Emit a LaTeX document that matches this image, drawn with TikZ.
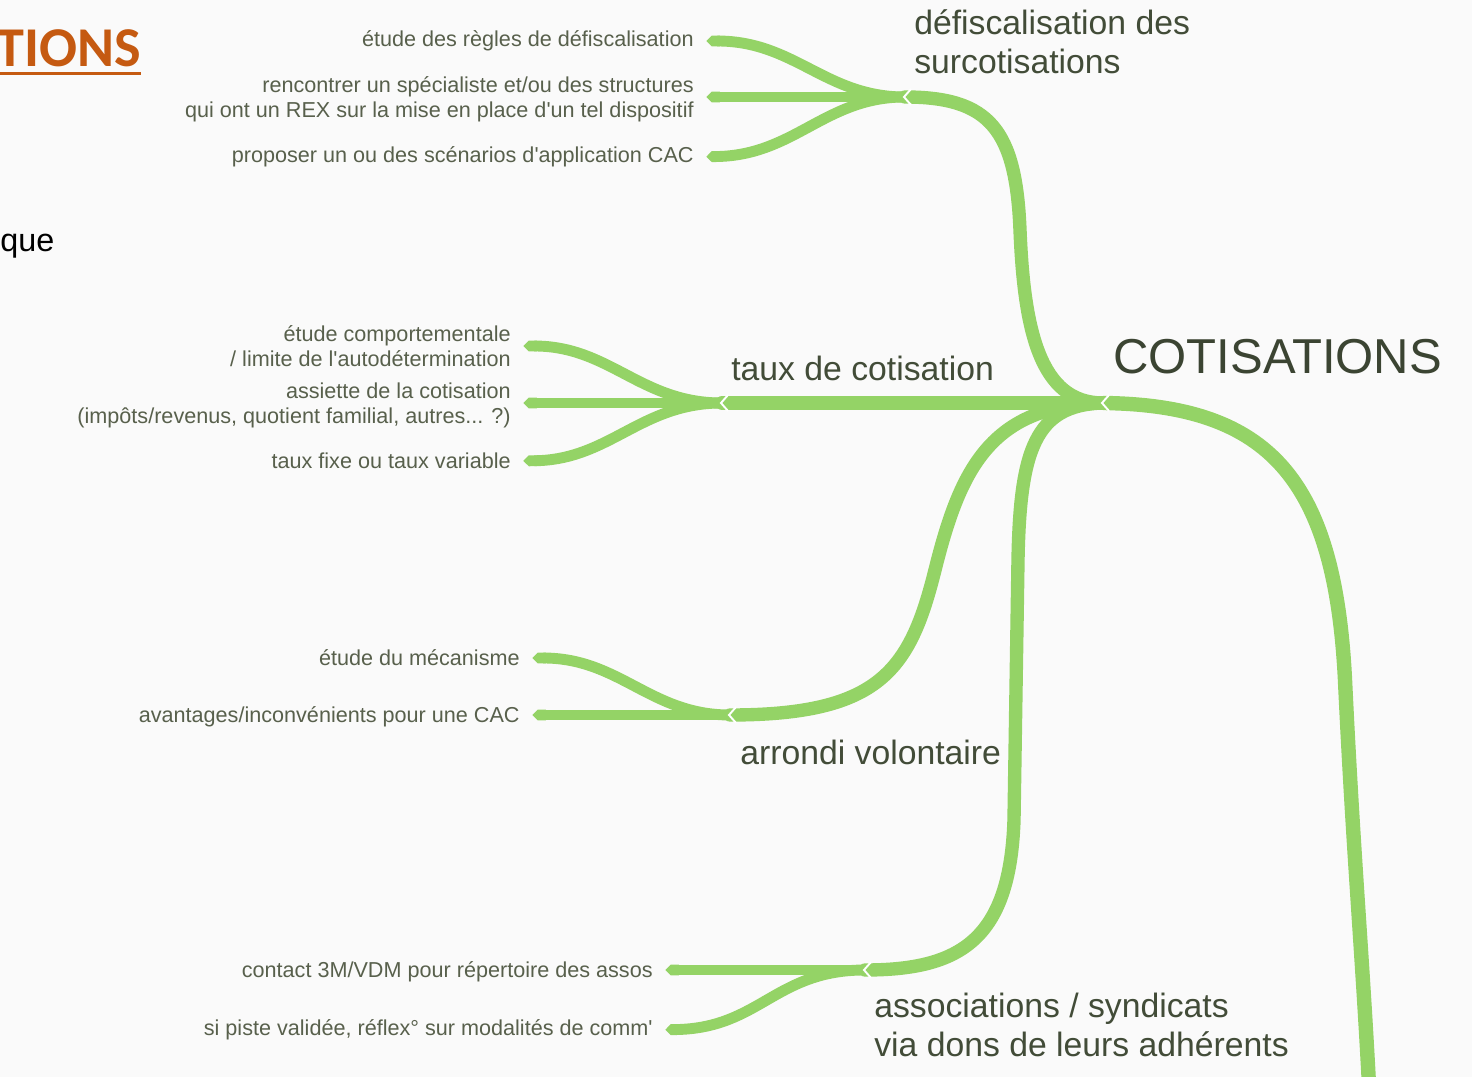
\documentclass[tikz,border=0pt]{standalone}
\usepackage{fontspec}
\setmainfont{Liberation Sans}[Ligatures=TeXOff]
\newfontfamily\titlefont{Carlito}
\usetikzlibrary{arrows.meta}
\definecolor{branch}{RGB}{148,211,102}
\definecolor{leaftext}{RGB}{88,96,76}
\definecolor{midtext}{RGB}{66,76,56}
\definecolor{titleorange}{RGB}{197,90,17}
\definecolor{paper}{RGB}{250,250,250}

\begin{document}
\begin{tikzpicture}[x=0.02cm,y=-0.02cm,
  main/.style={draw=branch,line width=7.6pt,line cap=round},
  tail/.style={draw=branch,line width=8.2pt,line cap=butt},
  twig/.style={draw=branch,line width=6.2pt,-{Triangle Cap},shorten >=7pt},
  leaf/.style={anchor=east,align=right,text=leaftext,inner sep=0pt,font=\fontsize{12.3}{14.2}\selectfont},
  topic/.style={anchor=west,align=left,text=midtext,inner sep=0pt,font=\fontsize{19.2}{22}\selectfont},
  notch/.style={draw=white,line width=1.1pt}]
\fill[paper] (0,0) rectangle (1472,1077);
\useasboundingbox (0,0) rectangle (1472,1077);

% bits of the slide behind
\node[anchor=base east,inner sep=0pt,text=titleorange,font=\titlefont\bfseries\fontsize{32}{36}\selectfont] (slidetitle) at (141,67) {TIONS};
\draw[titleorange,line width=1.8pt] ([yshift=-3.5pt]slidetitle.base west) -- ([yshift=-3.5pt]slidetitle.base east);
\node[anchor=west,inner sep=0pt,font=\fontsize{18.4}{22}\selectfont] (slideque) at (0,246) {que};

% junctions
\coordinate (root) at (1103,403);
\coordinate (dj) at (905,97);
\coordinate (tj) at (722,403);
\coordinate (aj) at (730,715);
\coordinate (sj) at (865,970);
\coordinate (tailend) at (1369,1085);

% texts
\node[anchor=west,inner sep=0pt,text=midtext!90!black,font=\fontsize{27.9}{30}\selectfont] (center) at (1113,357) {COTISATIONS};
\node[topic] (defisc) at (914,42) {défiscalisation des\\surcotisations};
\node[topic] (taux) at (731,368) {taux de cotisation};
\node[topic] (arrondi) at (740,752) {arrondi volontaire};
\node[topic] (assoc) at (874,1025) {associations / syndicats\\via dons de leurs adhérents};

\node[leaf] (d1) at (694,41) {étude des règles de défiscalisation};
\node[leaf] (d2) at (694,99) {rencontrer un spécialiste et/ou des structures\\qui ont un REX sur la mise en place d'un tel dispositif};
\node[leaf] (d3) at (694,157) {proposer un ou des scénarios d'application CAC};
\node[leaf] (t1) at (511,346) {étude comportementale\\/ limite de l'autodétermination};
\node[leaf] (t2) at (511,405) {assiette de la cotisation\\(impôts/revenus, quotient familial, autres... ?)};
\node[leaf] (t3) at (511,461) {taux fixe ou taux variable};
\node[leaf] (a1) at (520,658) {étude du mécanisme};
\node[leaf] (a2) at (520,717) {avantages/inconvénients pour une CAC};
\node[leaf] (s1) at (653,972) {contact 3M/VDM pour répertoire des assos};
\node[leaf] (s2) at (653,1030) {si piste validée, réflex° sur modalités de comm'};

% main branches
\draw[tail] (root) .. controls (1270,405) and (1335,480) .. (1345,680) .. controls (1353,850) and (1362,950) .. (tailend);
\draw[main] (root) .. controls (1040,403) and (1024,330) .. (1020,230) .. controls (1016,130) and (990,97) .. (dj);
\draw[main] (root) -- (tj);
\draw[main] (root) .. controls (990,405) and (960,470) .. (935,570) .. controls (910,670) and (880,715) .. (aj);
\draw[main] (root) .. controls (1035,405) and (1020,450) .. (1018,560) -- (1014,820) .. controls (1010,940) and (960,970) .. (sj);

% twigs
\draw[twig] (dj) .. controls (825,97) and (795,41) .. (d1.east);
\draw[twig] (dj) -- (dj -| d2.east);
\draw[twig] (dj) .. controls (825,97) and (795,155) .. (d3.east);
\draw[twig] (tj) .. controls (640,403) and (610,346) .. (t1.east);
\draw[twig] (tj) -- (tj -| t2.east);
\draw[twig] (tj) .. controls (640,403) and (610,460) .. (t3.east);
\draw[twig] (aj) .. controls (650,715) and (620,658) .. (a1.east);
\draw[twig] (aj) -- (aj -| a2.east);
\draw[twig] (sj) -- (sj -| s1.east);
\draw[twig] (sj) .. controls (775,970) and (760,1028) .. (s2.east);

% notches where a branch splits
\foreach \j in {root,dj,tj,aj,sj}
  \draw[notch] ([shift={(6,-8)}]\j) -- ([shift={(-1,0)}]\j) -- ([shift={(6,8)}]\j);
\end{tikzpicture}
\end{document}
